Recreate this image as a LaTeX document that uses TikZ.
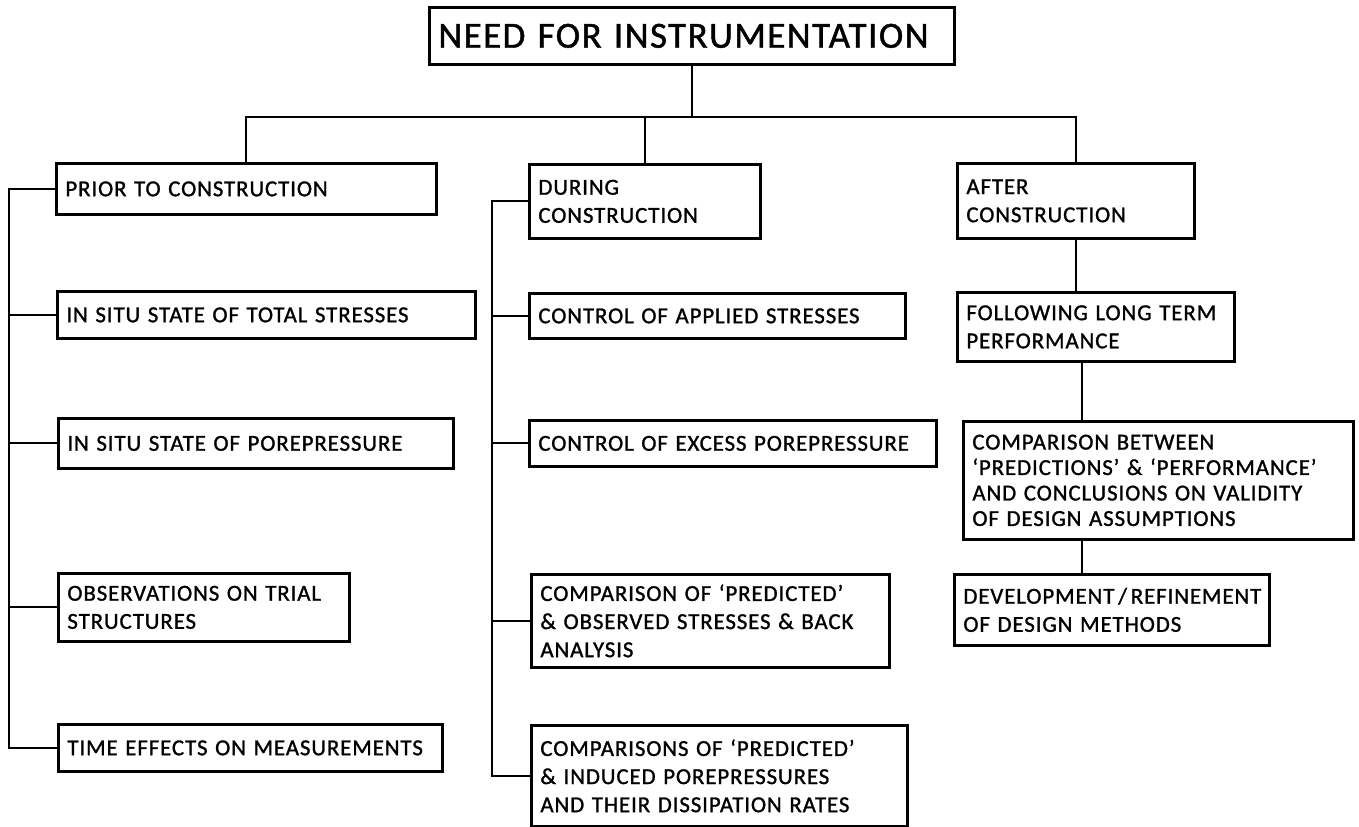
\documentclass[tikz,border=0pt]{standalone}
\usepackage{fontspec}
\newfontfamily\lettering[LetterSpace=4, FakeBold=1.2]{Carlito}
\usepackage{tikz}

\begin{document}
\begin{tikzpicture}[x=0.02cm, y=-0.02cm,
        box/.style={draw, line width=1.6pt, anchor=north west, align=left,
                inner xsep=0.18cm, inner ysep=0pt,
                font=\lettering\fontsize{13}{16}\selectfont},
        link/.style={line width=1.2pt}]
        \useasboundingbox (0,0) rectangle (1359,827);

        % top and the three stages
        \node[box, text width=10.14cm, minimum height=1.14cm,
                font=\lettering\fontsize{21}{24}\selectfont] (need) at (428,6) {NEED FOR INSTRUMENTATION};
        \node[box, text width=7.24cm, minimum height=1.02cm] (prior) at (55,162) {PRIOR TO CONSTRUCTION};
        \node[box, text width=4.26cm, minimum height=1.48cm] (during) at (528,163) {DURING\\CONSTRUCTION};
        \node[box, text width=4.38cm, minimum height=1.5cm] (after) at (956,162) {AFTER\\CONSTRUCTION};

        % prior to construction
        \node[box, text width=8.0cm, minimum height=0.94cm] (s1) at (56,290) {IN SITU STATE OF TOTAL STRESSES};
        \node[box, text width=7.54cm, minimum height=1.0cm] (s2) at (57,417) {IN SITU STATE OF POREPRESSURE};
        \node[box, text width=5.46cm, minimum height=1.36cm] (s3) at (57,572) {OBSERVATIONS ON TRIAL\\STRUCTURES};
        \node[box, text width=7.32cm, minimum height=0.94cm] (s4) at (57,723) {TIME EFFECTS ON MEASUREMENTS};

        % during construction
        \node[box, text width=7.16cm, minimum height=0.9cm] (d1) at (528,292) {CONTROL OF APPLIED STRESSES};
        \node[box, text width=7.78cm, minimum height=0.92cm] (d2) at (528,419) {\mbox{CONTROL OF EXCESS POREPRESSURE}};
        \node[box, text width=6.8cm, minimum height=1.86cm] (d3) at (530,573) {COMPARISON OF ‘PREDICTED’\\\& OBSERVED STRESSES \& BACK\\ANALYSIS};
        \node[box, text width=7.16cm, minimum height=2.02cm] (d4) at (530,724) {COMPARISONS OF ‘PREDICTED’\\\& INDUCED POREPRESSURES\\AND THEIR DISSIPATION RATES};

        % after construction
        \node[box, text width=5.18cm, minimum height=1.38cm] (a1) at (956,291) {\mbox{FOLLOWING LONG TERM}\\PERFORMANCE};
        \node[box, text width=7.44cm, minimum height=2.36cm,
                font=\lettering\fontsize{13}{14.5}\selectfont] (a2) at (962,420) {COMPARISON BETWEEN\\‘PREDICTIONS’ \& ‘PERFORMANCE’\\AND CONCLUSIONS ON VALIDITY\\OF DESIGN ASSUMPTIONS};
        \node[box, text width=5.94cm, minimum height=1.42cm] (a3) at (953,573) {\mbox{DEVELOPMENT\,/\,REFINEMENT}\\OF DESIGN METHODS};

        \coordinate (bar) at (0,117);
        \coordinate (lline) at (9,0);
        \coordinate (mline) at (492,0);
        \coordinate (rline) at (1082,0);

        \draw[link] (need.south) -- (need.south |- bar);
        \draw[link] (prior.north) -- (prior.north |- bar) -- (after.north |- bar) -- (after.north);
        \draw[link] (during.north) -- (during.north |- bar);

        \draw[link] (prior.west) -- (prior.west -| lline) -- (s4.west -| lline) -- (s4.west);
        \foreach \n in {s1,s2,s3}
                \draw[link] (\n.west) -- (\n.west -| lline);

        \draw[link] (during.west) -- (during.west -| mline) -- (d4.west -| mline) -- (d4.west);
        \foreach \n in {d1,d2,d3}
                \draw[link] (\n.west) -- (\n.west -| mline);

        \draw[link] (after.south) -- (after.south |- a1.north);
        \draw[link] (a1.south -| rline) -- (a2.north -| rline);
        \draw[link] (a2.south -| rline) -- (a3.north -| rline);
\end{tikzpicture}
\end{document}
